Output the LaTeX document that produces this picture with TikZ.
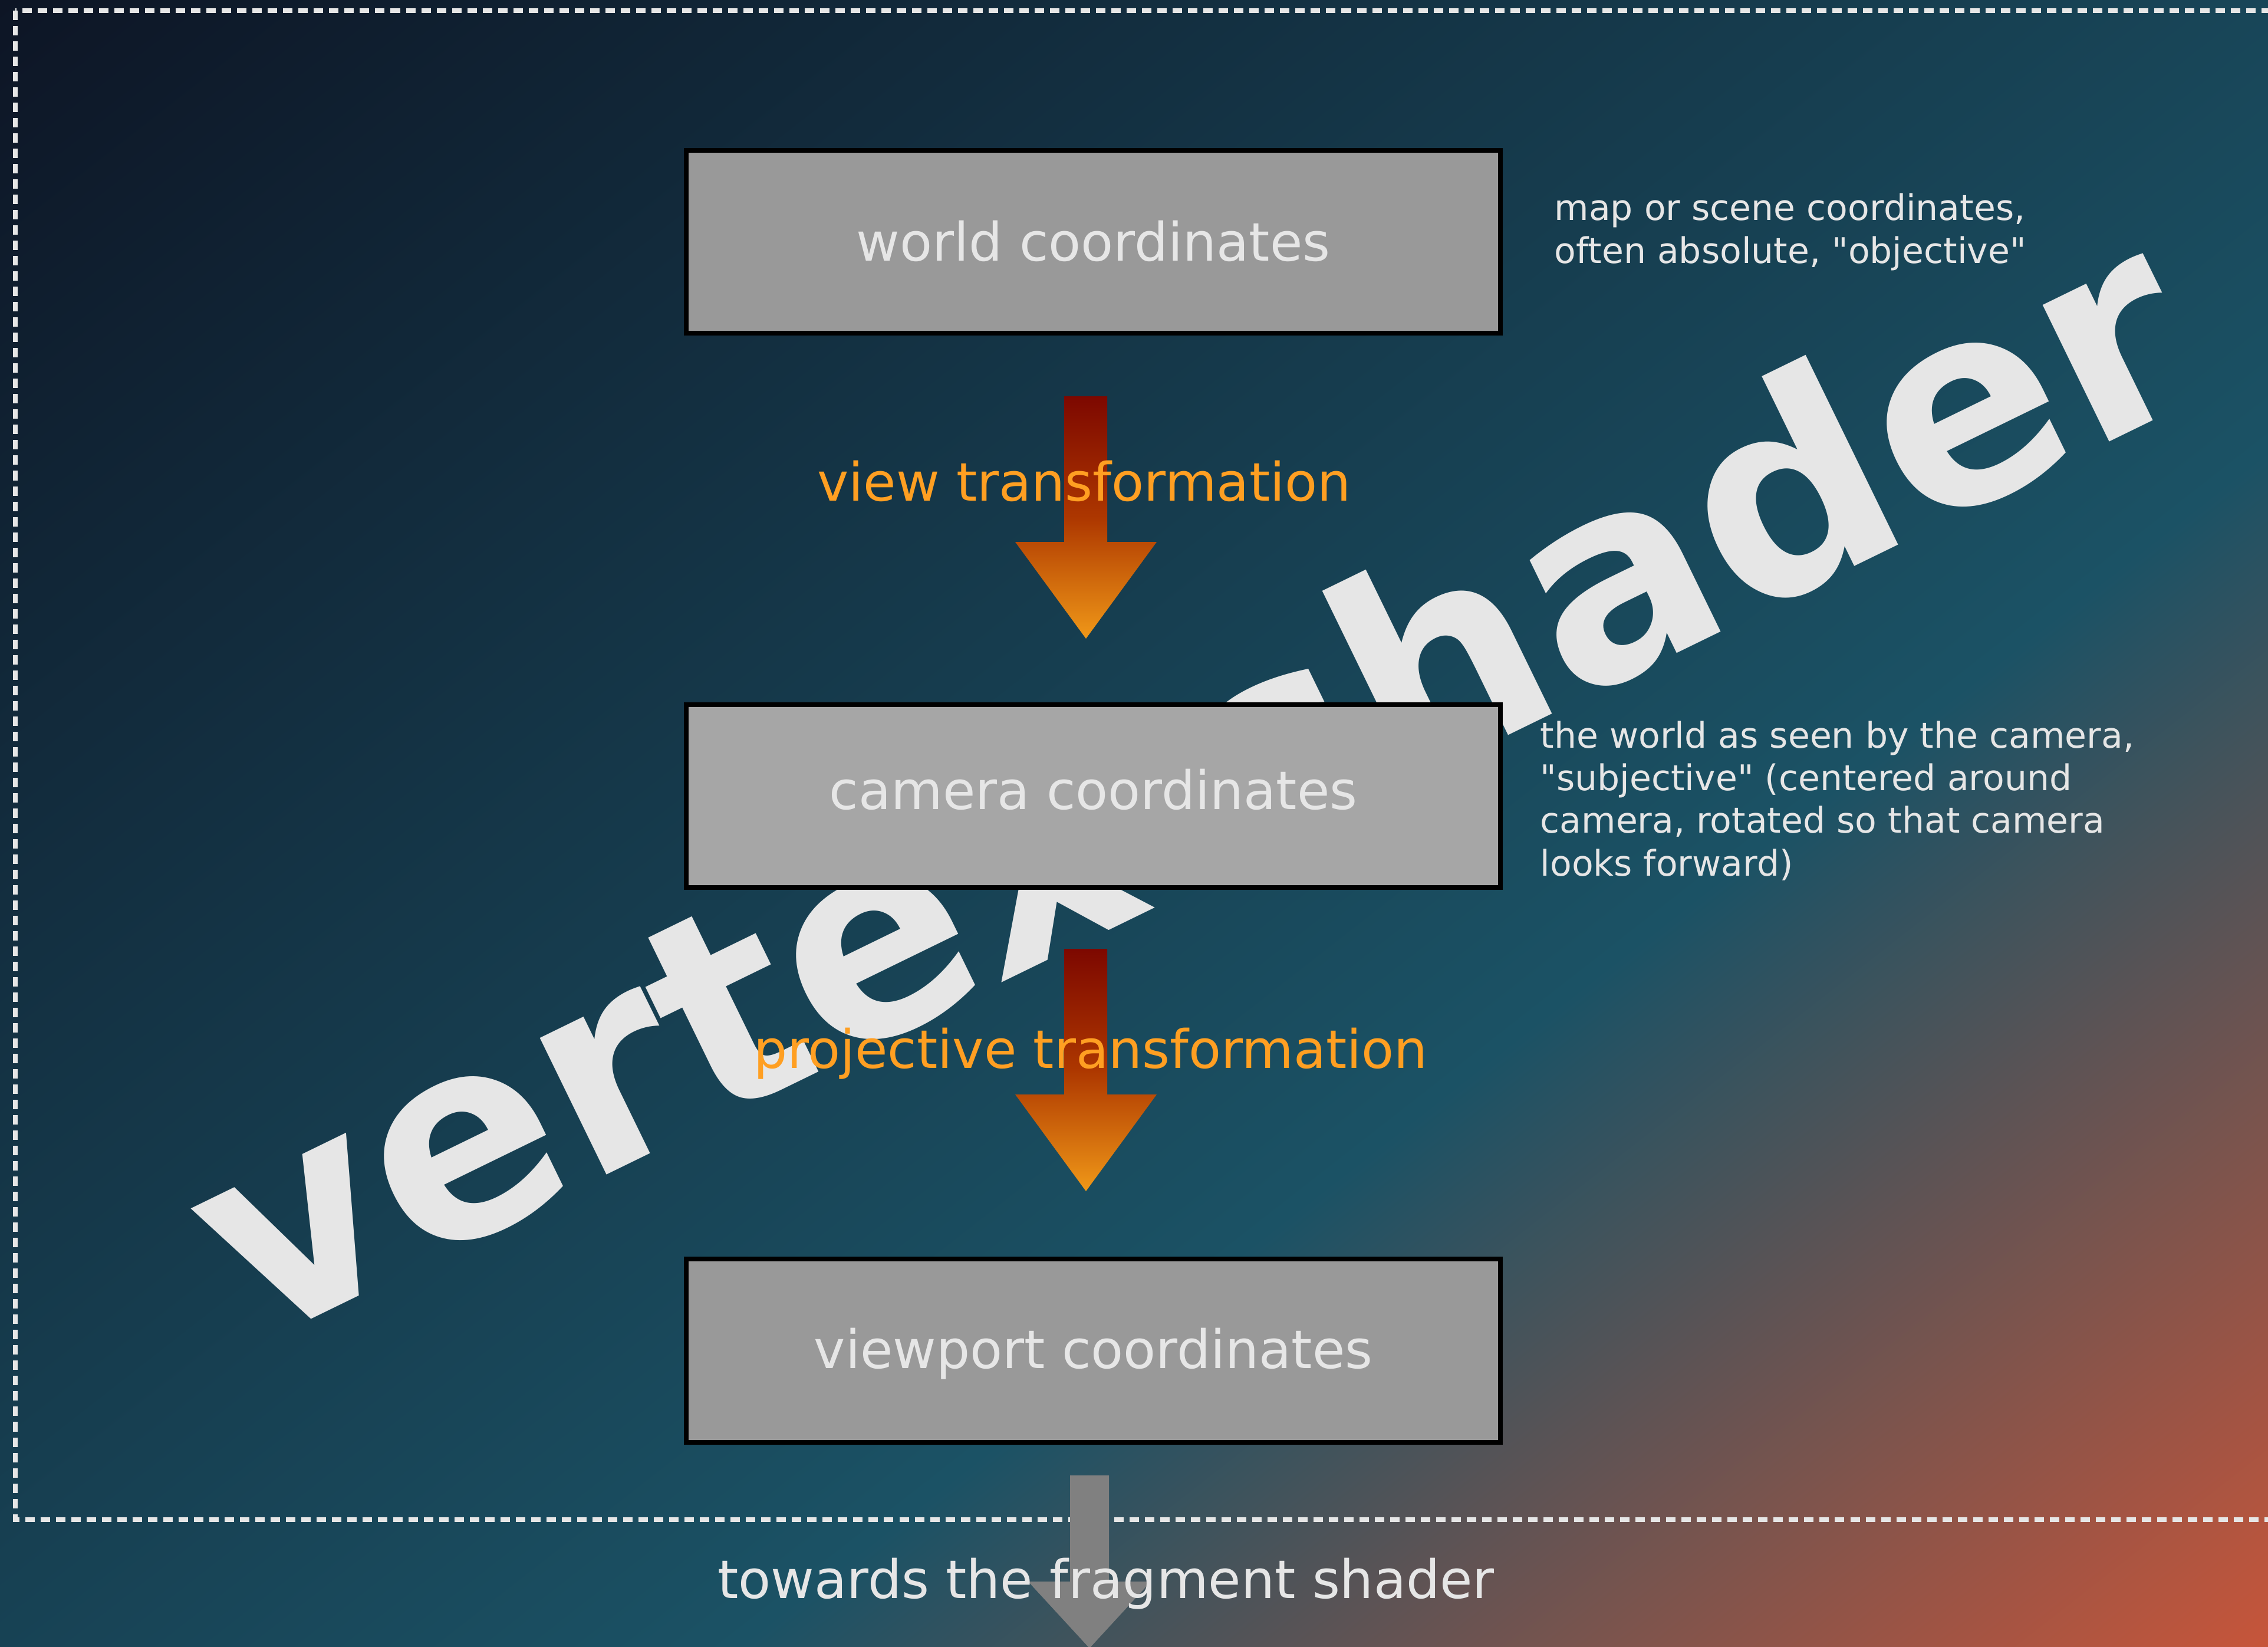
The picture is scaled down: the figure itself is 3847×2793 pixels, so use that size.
\documentclass[tikz,border=0pt]{standalone}
\usepackage{fontspec}
\setmainfont{DejaVu Sans}[Ligatures=TeXOff]
\definecolor{bgA}{RGB}{13,21,37}
\definecolor{bgB}{RGB}{27,82,101}
\definecolor{bgC}{RGB}{199,85,58}
\definecolor{boxA}{HTML}{999999}
\definecolor{boxB}{HTML}{A6A6A6}
\definecolor{txt}{HTML}{E6E6E6}
\definecolor{lbl}{HTML}{FF9F22}
\definecolor{arTop}{HTML}{7D0800}
\definecolor{arMid}{HTML}{AD3700}
\definecolor{arBot}{HTML}{F09818}
\definecolor{grayar}{HTML}{808080}
\pgfdeclarehorizontalshading{bgshade}{100bp}{color(0bp)=(bgA); color(25bp)=(bgA); color(57.5bp)=(bgB); color(75bp)=(bgC); color(100bp)=(bgC)}
\begin{document}
\begin{tikzpicture}[x=0.01cm,y=-0.01cm,
  boxstyle/.style={draw=black, line width=0.08cm, minimum width=13.81cm, minimum height=3.10cm, inner sep=0pt, text=txt, font=\fontsize{25.6}{30}\selectfont},
  lblstyle/.style={text=lbl, inner sep=0pt, font=\fontsize{25.6}{30}\selectfont, anchor=base},
  sidestyle/.style={text=txt, inner sep=0pt, align=left, anchor=base west, font=\fontsize{17.07}{20.5}\selectfont},
  dashline/.style={draw=txt, line width=0.08cm, dash pattern=on 0.16cm off 0.10cm},
  bigtext/.style={text=txt, inner sep=0pt, font=\fontsize{134}{140}\selectfont\bfseries},
  redarrow/.style={top color=arTop, bottom color=arBot, middle color=arMid},
  grayarrow/.style={fill=grayar}
]
\useasboundingbox (0,0) rectangle (3847,2793);
% background
\begin{scope}
\clip (0,0) rectangle (3847,2793);
\shade[shading=bgshade, shading angle=-52] (-360,-887) rectangle (4207,3680);
\end{scope}
% dashed frame
\draw[dashline] (26,18) rectangle (3920,2577);
% big watermark text
\node[bigtext, rotate=26, anchor=base west] (vs) at (430,2285) {vertex shader};
% boxes
\node[boxstyle, fill=boxA, text height=0.64cm, text depth=0pt] (world) at (1854.5,410) {world coordinates};
\node[boxstyle, fill=boxB, text height=0.44cm, text depth=0pt] (camera) at (1854.5,1350) {camera coordinates};
\node[boxstyle, fill=boxA, text height=0.60cm, text depth=0pt] (viewport) at (1854.5,2290.5) {viewport coordinates};
% transformation arrows
\shade[redarrow] (1805,672) -- (1878,672) -- (1878,919) -- (1962,919) -- (1842,1083) -- (1722,919) -- (1805,919) -- cycle;
\shade[redarrow] (1805,1609) -- (1878,1609) -- (1878,1856) -- (1962,1856) -- (1842,2020) -- (1722,1856) -- (1805,1856) -- cycle;
\node[lblstyle] (viewlbl) at (1839,849) {view transformation};
\node[lblstyle] (projlbl) at (1850,1811) {projective transformation};
% side notes (anchor is the baseline of the last line)
\node[sidestyle] (worldnote) at (2636,446) {map or scene coordinates,\\often absolute, "objective"};
\node[sidestyle] (cameranote) at (2612,1485) {the world as seen by the camera,\\"subjective" (centered around\\camera, rotated so that camera\\looks forward)};
% exit arrow
\fill[grayarrow] (1815,2502) -- (1881,2502) -- (1881,2682) -- (1952,2682) -- (1848,2795) -- (1744,2682) -- (1815,2682) -- cycle;
\node[lblstyle, text=txt] (fraglbl) at (1876,2710) {towards the fragment shader};
\end{tikzpicture}
\end{document}
